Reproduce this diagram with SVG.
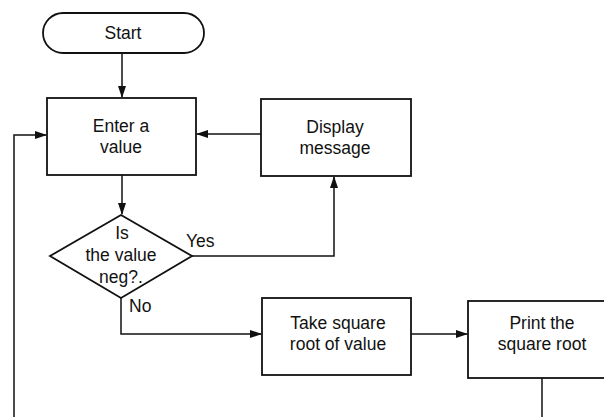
<svg xmlns="http://www.w3.org/2000/svg" width="604" height="417" viewBox="0 0 604 417">
<defs>
<marker id="ah" markerWidth="12" markerHeight="8" refX="11" refY="4" orient="auto" markerUnits="userSpaceOnUse">
<path d="M0,0 L12,4 L0,8 Z" fill="#111"/>
</marker>
<style>
.box{fill:#fff;stroke:#111;stroke-width:1.8}
.ln{fill:none;stroke:#111;stroke-width:1.5}
.t{font-family:"Liberation Sans",Arial,sans-serif;font-size:17.5px;fill:#111;text-anchor:middle}
.l{font-family:"Liberation Sans",Arial,sans-serif;font-size:17.5px;fill:#111}
</style>
</defs>
<rect width="604" height="417" fill="#fff"/>
<g id="connectors">
<path class="ln" d="M122,53 V97" marker-end="url(#ah)"/>
<path class="ln" d="M261,134 H197" marker-end="url(#ah)"/>
<path class="ln" d="M14,417 V135 H46" marker-end="url(#ah)"/>
<path class="ln" d="M122,175 V214" marker-end="url(#ah)"/>
<path class="ln" d="M192,256 H334 V177" marker-end="url(#ah)"/>
<path class="ln" d="M121,298 V334 H261" marker-end="url(#ah)"/>
<path class="ln" d="M411,334 H467" marker-end="url(#ah)"/>
<path class="ln" d="M542,378 V417"/>
<text class="l" x="186" y="247">Yes</text>
<text class="l" x="129" y="312">No</text>
</g>
<g id="start">
<rect class="box" x="43" y="13" width="161" height="40" rx="20" ry="20"/>
<text class="t" x="123" y="39">Start</text>
</g>
<g id="enter">
<rect class="box" x="47" y="98" width="149" height="77"/>
<text class="t" x="121" y="132">Enter a</text>
<text class="t" x="121" y="153">value</text>
</g>
<g id="display">
<rect class="box" x="261" y="99" width="150" height="77"/>
<text class="t" x="335" y="133">Display</text>
<text class="t" x="335" y="154">message</text>
</g>
<g id="decision">
<polygon class="box" points="121,215 192,256 121,298 50,256"/>
<text class="t" x="122" y="239">Is</text>
<text class="t" x="121" y="261">the value</text>
<text class="t" x="121" y="283">neg?.</text>
</g>
<g id="sqrt">
<rect class="box" x="262" y="298" width="149" height="77"/>
<text class="t" x="338" y="329">Take square</text>
<text class="t" x="338" y="350">root of value</text>
</g>
<g id="print">
<rect class="box" x="468" y="301" width="150" height="77"/>
<text class="t" x="542" y="329">Print the</text>
<text class="t" x="542" y="350">square root</text>
</g>
</svg>
